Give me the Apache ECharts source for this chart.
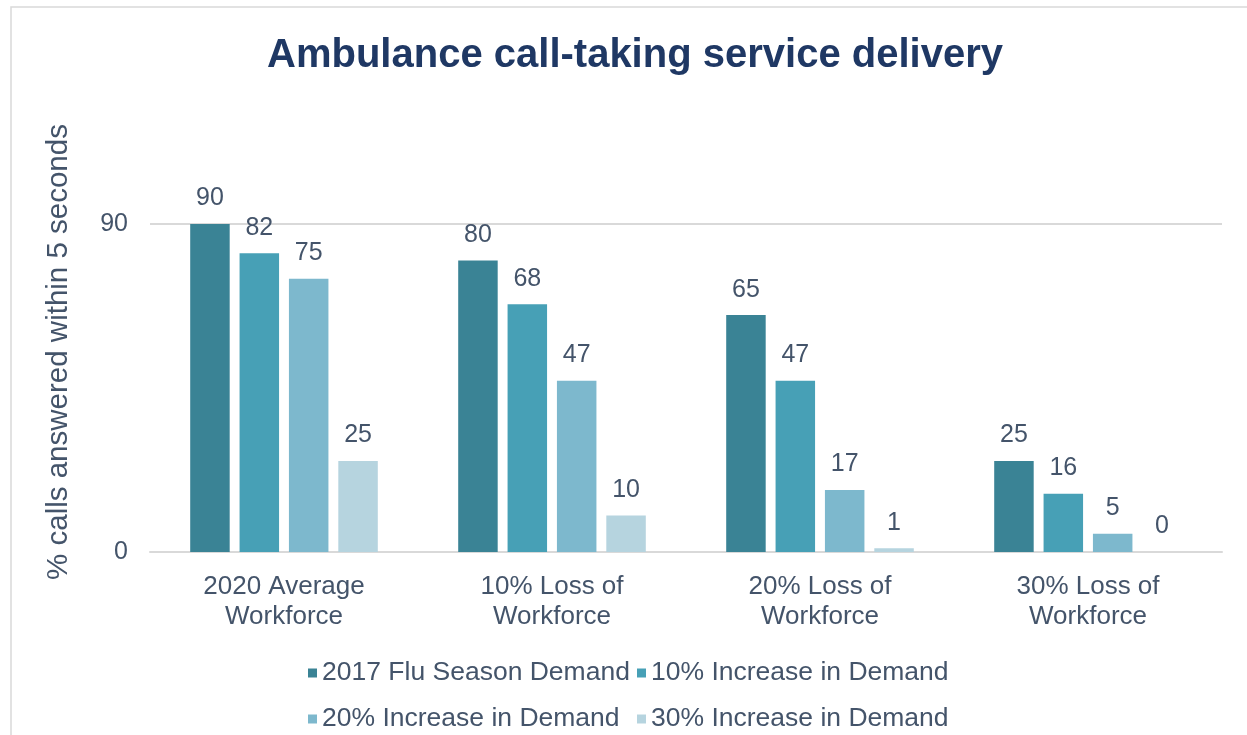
<!DOCTYPE html>
<html>
<head>
<meta charset="utf-8">
<title>Ambulance call-taking service delivery</title>
<script src="https://cdn.jsdelivr.net/npm/echarts@6/dist/echarts.min.js"></script>
<style>
  html, body { margin: 0; padding: 0; background: #ffffff; }
  #chart { width: 1247px; height: 735px; }
</style>
</head>
<body>
<div id="chart"></div>
<script>
// Workforce scenarios (x categories)
const categories = ['2020 Average\nWorkforce', '10% Loss of\nWorkforce', '20% Loss of\nWorkforce', '30% Loss of\nWorkforce'];

// Demand scenarios: % of calls answered within 5 seconds
const seriesNames = ['2017 Flu Season Demand', '10% Increase in Demand', '20% Increase in Demand', '30% Increase in Demand'];
const fluSeasonDemand = [90, 80, 65, 25];
const increase10 = [82, 68, 47, 16];
const increase20 = [75, 47, 17, 5];
const increase30 = [25, 10, 1, 0];

// Y axis ticks
const yTicks = [0, 90];

const colors = ['#3A8395', '#47A0B6', '#7DB8CD', '#B6D4DF'];
const textColor = '#44546A';
const gridColor = '#D9D9D9';
const font = "'Liberation Sans', Arial, sans-serif";

const chart = echarts.init(document.getElementById('chart'));

const values = [fluSeasonDemand, increase10, increase20, increase30];

const series = values.map((data, i) => ({
  name: seriesNames[i],
  type: 'bar',
  data: data,
  barGap: '25%',
  barCategoryGap: '30%',
  itemStyle: { color: colors[i] },
  label: {
    show: true,
    position: 'top',
    distance: 13,
    color: textColor,
    fontSize: 25,
    fontFamily: font
  },
  emphasis: { disabled: true }
}));

// one legend per entry so the two rows line up in columns
const legendPos = [
  { left: 308, top: 658 },
  { left: 637, top: 658 },
  { left: 308, top: 704 },
  { left: 637, top: 704 }
];
const legends = seriesNames.map((name, i) => ({
  data: [name],
  left: legendPos[i].left,
  top: legendPos[i].top,
  padding: 0,
  icon: 'rect',
  itemWidth: 9,
  itemHeight: 9,
  selectedMode: false,
  textStyle: { color: textColor, fontSize: 26.5, fontFamily: font, lineHeight: 30 }
}));

chart.setOption({
  animation: false,
  color: colors,
  title: {
    text: 'Ambulance call-taking service delivery',
    left: 630,
    textAlign: 'center',
    top: 31,
    textStyle: { color: '#1F3864', fontSize: 40, fontWeight: 'bold', fontFamily: font }
  },
  legend: legends,
  grid: { left: 150, right: 25, top: 224, bottom: 183 },
  xAxis: {
    type: 'category',
    data: categories,
    axisLine: { lineStyle: { color: gridColor, width: 2 } },
    axisTick: { show: false },
    axisLabel: { color: textColor, fontSize: 26, fontFamily: font, lineHeight: 30, margin: 20 }
  },
  yAxis: {
    type: 'value',
    min: yTicks[0],
    max: yTicks[yTicks.length - 1],
    interval: yTicks[1] - yTicks[0],
    name: '% calls answered within 5 seconds',
    nameLocation: 'middle',
    nameGap: 76,
    nameTextStyle: { color: textColor, fontSize: 29.5, fontFamily: font, padding: [0, 0, 0, 72] },
    axisLine: { show: false },
    axisTick: { show: false },
    splitLine: { lineStyle: { color: gridColor, width: 2 } },
    axisLabel: { color: textColor, fontSize: 25, fontFamily: font, margin: 22 }
  },
  graphic: [
    {
      type: 'polyline',
      silent: true,
      shape: { points: [[11, 735], [11, 7], [1247, 7]] },
      style: { stroke: gridColor, lineWidth: 1.5, fill: null }
    }
  ],
  series: series
});
</script>
</body>
</html>
